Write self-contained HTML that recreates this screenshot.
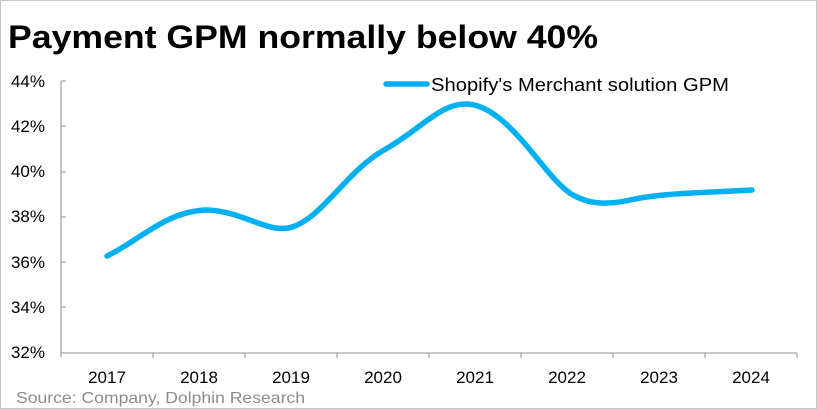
<!DOCTYPE html>
<html><head><style>
body{margin:0;background:#fff;}
.w{position:relative;width:815px;height:407px;border:1px solid #c8c8c8;overflow:hidden;font-family:"Liberation Sans",sans-serif;}
</style></head><body><div class="w">
<svg width="815" height="407" viewBox="1 1 815 407" xmlns="http://www.w3.org/2000/svg" style="position:absolute;left:0;top:0">
<text x="8" y="48" font-size="32" font-weight="bold" fill="#000" textLength="590" lengthAdjust="spacingAndGlyphs">Payment GPM normally below 40%</text>
<g font-size="17" fill="#000" text-anchor="end">
<text x="45" y="87">44%</text><text x="45" y="132">42%</text><text x="45" y="177">40%</text>
<text x="45" y="222">38%</text><text x="45" y="268">36%</text><text x="45" y="313">34%</text><text x="45" y="358">32%</text>
</g>
<g stroke="#a6a6a6" stroke-width="1.3" fill="none">
<line x1="61" y1="81" x2="61" y2="357"/>
<line x1="61" y1="81" x2="66" y2="81"/><line x1="61" y1="126" x2="66" y2="126"/><line x1="61" y1="172" x2="66" y2="172"/>
<line x1="61" y1="217" x2="66" y2="217"/><line x1="61" y1="262" x2="66" y2="262"/><line x1="61" y1="307" x2="66" y2="307"/>
<line x1="61" y1="353" x2="797" y2="353"/>
<line x1="153" y1="353" x2="153" y2="358"/><line x1="245" y1="353" x2="245" y2="358"/><line x1="337" y1="353" x2="337" y2="358"/>
<line x1="429" y1="353" x2="429" y2="358"/><line x1="521" y1="353" x2="521" y2="358"/><line x1="613" y1="353" x2="613" y2="358"/>
<line x1="705" y1="353" x2="705" y2="358"/><line x1="797" y1="353" x2="797" y2="358"/>
</g>
<g font-size="17" fill="#000" text-anchor="middle">
<text x="107" y="383">2017</text><text x="199" y="383">2018</text><text x="291" y="383">2019</text><text x="383" y="383">2020</text>
<text x="475" y="383">2021</text><text x="567" y="383">2022</text><text x="659" y="383">2023</text><text x="751" y="383">2024</text>
</g>
<text x="16" y="403" font-size="16" fill="#8c8c8c" textLength="289" lengthAdjust="spacingAndGlyphs">Source: Company, Dolphin Research</text>
<path d="M107,256 C140,240 165,212 205,210 C240,210 265,232 288,228 C320,222 345,172 384,150 C420,130 440,103 467,104 C510,106 545,180 573,195 C590,205 610,205 635,199 C665,193 700,193 752,190" fill="none" stroke="#00b0f0" stroke-width="5.5" stroke-linecap="round"/>
<line x1="386" y1="84" x2="427" y2="84" stroke="#00b0f0" stroke-width="5.5" stroke-linecap="round"/>
<text x="431" y="91" font-size="18" fill="#000" textLength="298" lengthAdjust="spacingAndGlyphs">Shopify's Merchant solution GPM</text>
</svg>
</div></body></html>
